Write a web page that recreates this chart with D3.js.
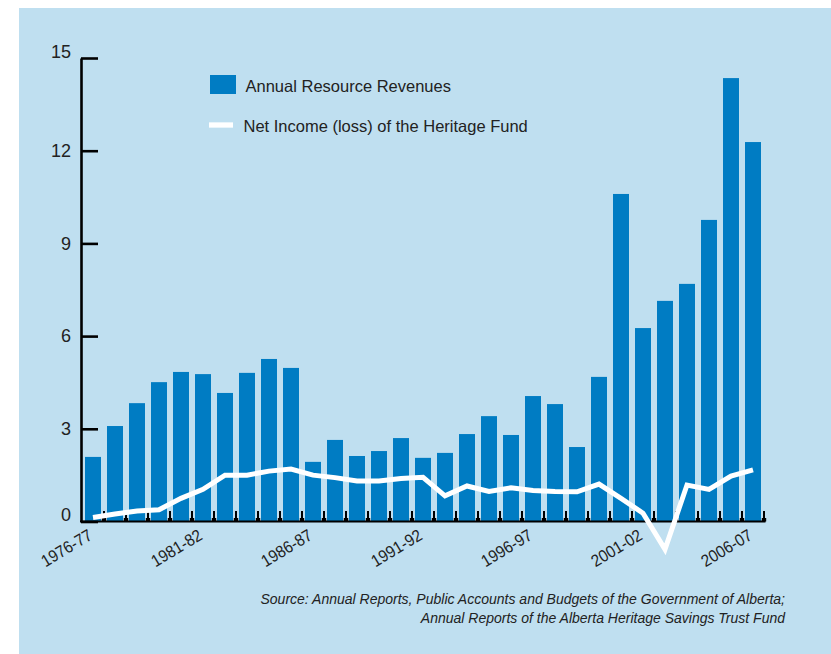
<!DOCTYPE html>
<html>
<head>
<meta charset="utf-8">
<script src="https://cdn.jsdelivr.net/npm/d3@7"></script>
<style>
  html, body { margin: 0; padding: 0; background: #ffffff; }
  svg { display: block; }
  text { font-family: "Liberation Sans", Arial, sans-serif; fill: #222; }
</style>
</head>
<body>
<svg id="chart" width="831" height="654"></svg>
<script>
// Fiscal years, 1976-77 through 2006-07
const years = [
  "1976-77","1977-78","1978-79","1979-80","1980-81","1981-82","1982-83","1983-84",
  "1984-85","1985-86","1986-87","1987-88","1988-89","1989-90","1990-91","1991-92",
  "1992-93","1993-94","1994-95","1995-96","1996-97","1997-98","1998-99","1999-00",
  "2000-01","2001-02","2002-03","2003-04","2004-05","2005-06","2006-07"
];

// Annual resource revenues ($ billions)
const resourceRevenues = [
  2.09, 3.09, 3.83, 4.51, 4.84, 4.77, 4.16, 4.81, 5.26, 4.97,
  1.93, 2.64, 2.12, 2.28, 2.70, 2.06, 2.22, 2.83, 3.41, 2.80,
  4.06, 3.80, 2.41, 4.68, 10.60, 6.26, 7.14, 7.69, 9.76, 14.35, 12.28
];

// Net income (loss) of the Heritage Fund ($ billions)
const netIncome = [
  0.13, 0.24, 0.34, 0.38, 0.75, 1.04, 1.50, 1.50, 1.63, 1.70,
  1.50, 1.42, 1.31, 1.31, 1.39, 1.43, 0.83, 1.15, 0.97, 1.09,
  1.00, 0.97, 0.96, 1.21, 0.75, 0.27, -0.90, 1.18, 1.04, 1.47, 1.67
];

const yTicks = [0, 3, 6, 9, 12, 15];
const labelledYears = ["1976-77","1981-82","1986-87","1991-92","1996-97","2001-02","2006-07"];

const legendItems = ["Annual Resource Revenues", "Net Income (loss) of the Heritage Fund"];
const sourceLines = [
  "Source: Annual Reports, Public Accounts and Budgets of the Government of Alberta;",
  "Annual Reports of the Alberta Heritage Savings Trust Fund"
];

const BG = "#bfdff0";
const BAR = "#007cc3";

const svg = d3.select("#chart");

// panel background
svg.append("rect")
  .attr("x", 19).attr("y", 8)
  .attr("width", 831 - 19).attr("height", 654 - 8)
  .attr("fill", BG);

const x = d3.scaleBand()
  .domain(years)
  .range([79, 767])
  .paddingInner(6 / 22)
  .paddingOuter(6 / 22);

const y = d3.scaleLinear()
  .domain([0, 15])
  .range([521.5, 58]);

const gap = x.step() - x.bandwidth();

// bars
svg.append("g")
  .selectAll("rect")
  .data(years)
  .join("rect")
  .attr("x", d => x(d))
  .attr("y", (d, i) => y(resourceRevenues[i]))
  .attr("width", x.bandwidth())
  .attr("height", (d, i) => y(0) - y(resourceRevenues[i]))
  .attr("fill", BAR);

// y axis: ticks pointing into the plot
const yAxis = d3.axisLeft(y)
  .tickValues(yTicks)
  .tickSizeInner(-17)
  .tickSizeOuter(0)
  .tickPadding(10)
  .tickFormat(d3.format("d"));

const gy = svg.append("g")
  .attr("transform", "translate(81,0)")
  .call(yAxis);
gy.select(".domain").attr("stroke", "#000").attr("stroke-width", 2.6);
gy.selectAll(".tick line").attr("stroke", "#000").attr("stroke-width", 2.6);
gy.selectAll(".tick text")
  .attr("font-family", "'Liberation Sans', Arial, sans-serif")
  .attr("font-size", 18)
  .attr("fill", "#222")
  .attr("dy", d => (d === 0 || d === 15) ? "-0.05em" : "0.32em");

// x axis baseline
svg.append("line")
  .attr("x1", 80).attr("x2", x(years[years.length - 1]) + x.bandwidth() + gap / 2 + 1.5)
  .attr("y1", y(0)).attr("y2", y(0))
  .attr("stroke", "#000").attr("stroke-width", 2.2);

// x ticks between bars
const xt = svg.append("g");
years.forEach(d => {
  const tx = x(d) + x.bandwidth() + gap / 2;
  xt.append("line")
    .attr("x1", tx).attr("x2", tx)
    .attr("y1", y(0)).attr("y2", y(0) - 10.5)
    .attr("stroke", "#000").attr("stroke-width", 2);
  xt.append("rect")
    .attr("x", tx - 2.2).attr("y", y(0) - 3.5)
    .attr("width", 4.4).attr("height", 3.5)
    .attr("fill", "#000");
});

// x labels, rotated and horizontally condensed
svg.append("g")
  .selectAll("text")
  .data(labelledYears)
  .join("text")
  .attr("transform", d => `translate(${x(d) + x.bandwidth() / 2 + 0.5},${y(0) + 17}) rotate(-31) scale(0.9,1)`)
  .attr("text-anchor", "end")
  .attr("font-size", 17)
  .text(d => d);

// net income line
const line = d3.line()
  .x((d, i) => x(years[i]) + x.bandwidth() / 2)
  .y(d => y(d));

svg.append("path")
  .datum(netIncome)
  .attr("d", line)
  .attr("fill", "none")
  .attr("stroke", "#ffffff")
  .attr("stroke-width", 5)
  .attr("stroke-linejoin", "miter")
  .attr("stroke-miterlimit", 10);

// legend
const lg = svg.append("g");
lg.append("rect")
  .attr("x", 210).attr("y", 75).attr("width", 26).attr("height", 19)
  .attr("fill", BAR);
lg.append("text")
  .attr("x", 245.5).attr("y", 91.5)
  .attr("font-size", 16.5)
  .text(legendItems[0]);
lg.append("line")
  .attr("x1", 209).attr("x2", 233)
  .attr("y1", 125).attr("y2", 125)
  .attr("stroke", "#ffffff").attr("stroke-width", 5.3);
lg.append("text")
  .attr("x", 243.5).attr("y", 131.5)
  .attr("font-size", 16.5)
  .text(legendItems[1]);

// source note
svg.append("g")
  .selectAll("text")
  .data(sourceLines)
  .join("text")
  .attr("x", 785)
  .attr("y", (d, i) => 604 + i * 19)
  .attr("text-anchor", "end")
  .attr("font-size", 14)
  .attr("font-style", "italic")
  .attr("fill", "#333")
  .text(d => d);
</script>
</body>
</html>
